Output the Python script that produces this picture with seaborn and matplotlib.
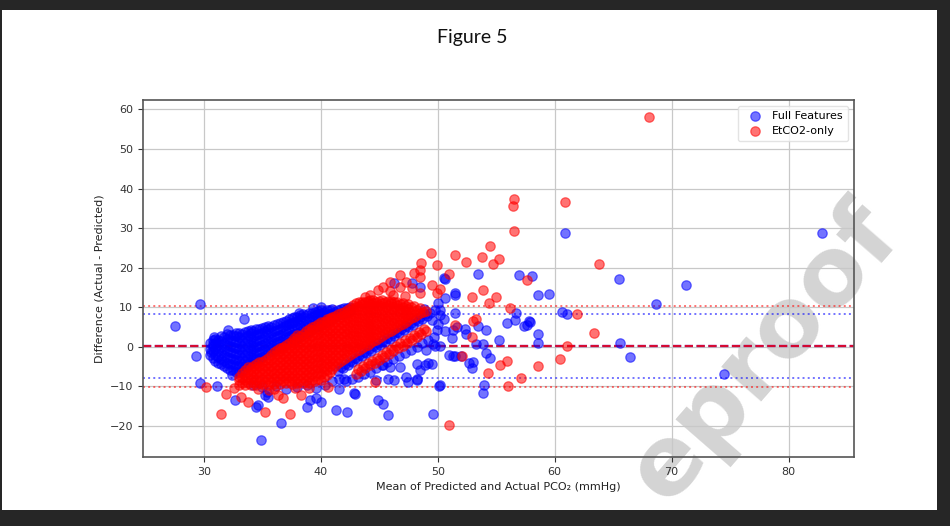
import numpy as np
import pandas as pd
import matplotlib
matplotlib.use("Agg")
import matplotlib.pyplot as plt
from matplotlib.patches import Rectangle
import seaborn as sns

# ---------------- data ----------------
series_names = ["Full Features", "EtCO2-only"]
series_colors = ["blue", "red"]

# Full Features: dense cloud, written column by column (x, list of y)
full_core_x = [30.5, 31.0, 31.5, 32.0, 32.5, 33.0, 33.5, 34.0, 34.5, 35.0, 35.5,
               36.0, 36.5, 37.0, 37.5, 38.0, 38.5, 39.0, 39.5, 40.0, 40.5, 41.0,
               41.5, 42.0, 42.5]
full_core_y = [
    [-2.0, -0.5, 1.0],
    [-3.5, -2.0, -0.5, 1.0, 2.0],
    [-4.5, -3.0, -1.5, 0.0, 1.5, 2.8],
    [-5.5, -4.0, -2.5, -1.0, 0.5, 2.0, 3.2],
    [-6.0, -4.5, -3.0, -1.5, 0.0, 1.5, 3.0],
    [-6.5, -5.0, -3.5, -2.0, -0.5, 1.0, 2.5, 3.5],
    [-5.0, -3.5, -2.0, -0.5, 1.0, 2.5, 3.8],
    [-4.0, -2.5, -1.0, 0.5, 2.0, 3.5, 4.2],
    [-3.0, -1.5, 0.0, 1.5, 3.0, 4.5],
    [-2.5, -1.0, 0.5, 2.0, 3.5, 4.8],
    [-1.5, 0.0, 1.5, 3.0, 4.5, 5.3],
    [-0.5, 1.0, 2.5, 4.0, 5.5],
    [0.0, 1.5, 3.0, 4.5, 6.0],
    [1.0, 2.5, 4.0, 5.5, 6.6],
    [1.5, 3.0, 4.5, 6.0, 7.2],
    [2.0, 3.5, 5.0, 6.5, 7.6],
    [3.0, 4.5, 6.0, 7.5, 8.2],
    [4.0, 5.5, 7.0, 8.4],
    [5.0, 6.5, 8.0, 8.8],
    [5.5, 7.0, 8.5, 9.2],
    [6.5, 8.0, 9.3],
    [7.0, 8.5, 9.5],
    [8.0, 9.3],
    [8.5, 9.8],
    [9.2, 10.0],
]
# Full Features: staggered columns filling the same cloud
full_core2_x = [30.75, 31.25, 31.75, 32.25, 32.75, 33.25, 33.75, 34.25, 34.75,
                35.25, 35.75, 36.25, 36.75, 37.25, 37.75, 38.25, 38.75, 39.25,
                39.75, 40.25, 40.75, 41.25, 41.75, 42.25]
full_core2_y = [
    [-2.8, -1.2, 0.3, 1.6],
    [-4.0, -2.5, -1.0, 0.5, 1.8],
    [-5.0, -3.5, -2.0, -0.5, 1.0, 2.4],
    [-5.8, -4.3, -2.8, -1.3, 0.2, 1.7, 3.0],
    [-6.3, -4.8, -3.3, -1.8, -0.3, 1.2, 2.7, 3.4],
    [-5.8, -4.3, -2.8, -1.3, 0.2, 1.7, 3.2],
    [-4.5, -3.0, -1.5, 0.0, 1.5, 3.0, 4.0],
    [-3.5, -2.0, -0.5, 1.0, 2.5, 3.9],
    [-2.8, -1.3, 0.2, 1.7, 3.2, 4.6],
    [-2.0, -0.5, 1.0, 2.5, 4.0, 5.0],
    [-1.0, 0.5, 2.0, 3.5, 5.0],
    [-0.2, 1.3, 2.8, 4.3, 5.7],
    [0.5, 2.0, 3.5, 5.0, 6.3],
    [1.2, 2.7, 4.2, 5.7, 6.9],
    [1.8, 3.3, 4.8, 6.3, 7.4],
    [2.5, 4.0, 5.5, 7.0, 7.9],
    [3.5, 5.0, 6.5, 8.0],
    [4.5, 6.0, 7.5, 8.6],
    [5.2, 6.7, 8.2, 9.0],
    [6.0, 7.5, 8.9],
    [6.8, 8.2, 9.4],
    [7.5, 8.9],
    [8.2, 9.5],
    [8.8, 9.9],
]
# Full Features: strips beside / below the EtCO2 band
full_strip_x = [41.5, 41.9, 42.3, 42.7, 43.1, 43.5, 43.9, 44.3, 44.7, 45.1, 45.5,
                45.9, 46.3, 46.7, 47.1, 47.5, 47.9, 48.3, 48.7, 49.1,
                41.7, 42.1, 42.5, 42.9, 43.3, 43.7, 44.1, 44.5, 44.9, 45.3, 45.7,
                46.1, 46.5, 46.9, 47.3, 47.7, 48.1, 48.5, 48.9,
                42.2, 42.7, 43.2, 43.7, 44.2, 44.7, 45.2, 45.7, 46.2, 46.7, 47.2,
                47.7, 48.2, 48.7, 49.2, 49.7,
                34.2, 35.0, 36.2, 37.0, 38.0, 38.8, 39.6, 40.4, 41.0, 41.6]
full_strip_y = [-6.2, -5.4, -4.6, -3.9, -3.2, -2.4, -1.7, -1.0, -0.2, 0.5, 1.2,
                2.0, 2.7, 3.4, 4.2, 4.9, 5.6, 6.4, 7.1, 7.8,
                -5.1, -4.4, -3.6, -2.9, -2.1, -1.4, -0.6, 0.1, 0.9, 1.6, 2.3,
                3.1, 3.8, 4.5, 5.3, 6.0, 6.7, 7.5, 8.2,
                -8.6, -8.1, -7.6, -7.0, -6.3, -5.4, -4.6, -3.9, -3.0, -2.3, -1.6,
                -0.8, 0.0, 0.9, 1.7, 2.4,
                -9.8, -10.3, -9.9, -10.6, -10.2, -9.8, -10.4, -9.6, -8.8, -8.2]
# Full Features: scattered points
full_out_x = [82.85, 60.85, 65.5, 71.2, 68.7, 74.5, 66.4, 65.55, 56.95, 58.1,
              53.45, 50.6, 58.55, 59.5, 51.5, 56.7, 56.6, 55.9, 57.4, 57.8,
              57.9, 57.6, 60.6, 61.05, 58.55, 58.55, 55.2, 53.9, 52.3, 52.45,
              51.65, 53.45, 54.1, 51.2, 49.8, 51.3, 52.0, 52.7, 53.05, 52.9,
              54.1, 54.5, 54.0, 53.9, 50.1, 49.6, 48.9, 49.2, 46.3, 47.5,
              48.2, 42.0, 41.6, 42.85, 44.9, 45.3, 45.75, 41.3, 42.25, 38.8,
              39.6, 40.05, 36.6, 34.9, 34.6, 35.2, 35.5, 32.7, 31.1, 29.7,
              29.3, 27.5, 29.7, 30.65, 30.8, 30.9, 32.1, 33.4, 38.1, 39.35,
              40.05, 32.4, 34.5, 46.3, 47.8, 48.5, 50.5, 51.45, 50.2, 51.5,
              50.6, 48.8, 49.3, 49.8, 50.2, 49.5, 50.0, 50.5, 49.9, 50.6,
              51.3, 49.6, 50.2, 49.0, 49.5, 48.2, 48.5, 46.75, 45.9, 45.3,
              47.3, 48.2, 45.75, 44.75, 51.0, 51.45, 50.2, 39.1, 35.4, 53.3,
              42.9, 50.0]
full_out_y = [28.7, 28.7, 17.1, 15.7, 10.7, -6.8, -2.7, 1.05, 18.2, 17.9,
              18.5, 17.1, 13.0, 13.3, 13.0, 8.4, 6.7, 6.0, 5.3, 6.5,
              6.2, 5.6, 8.8, 8.15, 3.1, 1.05, 1.8, 0.8, 4.6, 3.3,
              5.0, 5.2, 4.3, 2.1, 0.1, -2.4, -2.3, -4.1, -3.9, -5.5,
              -1.7, -2.8, -9.7, -11.6, -10.0, -16.9, -4.7, -4.1, -8.5, -8.9,
              -8.2, -8.1, -10.8, -11.6, -13.5, -14.6, -17.3, -16.1, -16.5, -15.2,
              -13.1, -14.0, -19.2, -23.6, -14.8, -12.3, -12.7, -13.4, -10.0, -9.3,
              -2.4, 5.2, 10.8, -1.3, 0.8, 2.5, 4.2, 7.1, 8.4, 9.7,
              10.1, -7.2, -15.2, 16.0, 16.0, 15.2, 17.3, 13.5, 9.2, 8.4,
              12.2, 9.6, 8.6, 9.2, 8.0, 6.7, 5.8, 6.9, 4.3, 4.0,
              4.1, 0.8, 0.3, -0.9, -4.3, -4.3, -5.8, -5.1, -5.1, -4.7,
              -7.6, -8.4, -8.1, -8.4, -2.2, -2.3, -9.7, -13.5, -11.4, 0.8,
              -11.9, 11.0]

# EtCO2-only: dense band, column by column
etco2_core_x = [33.0, 33.5, 34.0, 34.5, 35.0, 35.5, 36.0, 36.5, 37.0, 37.5, 38.0,
                38.5, 39.0, 39.5, 40.0, 40.5, 41.0, 41.5, 42.0, 42.5, 43.0, 43.5,
                44.0, 44.5, 45.0, 45.5, 46.0, 46.5, 47.0, 47.5, 48.0, 48.5, 49.0]
etco2_core_y = [
    [-9.6, -8.4, -7.6],
    [-9.8, -8.5, -7.1, -6.0],
    [-9.6, -8.2, -6.8, -5.5],
    [-9.7, -8.3, -6.9, -5.5, -4.4],
    [-9.5, -8.1, -6.7, -5.3, -3.9],
    [-9.6, -8.2, -6.8, -5.4, -4.0, -2.8],
    [-9.4, -8.0, -6.6, -5.2, -3.8, -2.4, -1.4],
    [-9.5, -8.1, -6.7, -5.3, -3.9, -2.5, -1.1, -0.4],
    [-9.3, -7.9, -6.5, -5.1, -3.7, -2.3, -0.9, 0.4],
    [-9.4, -8.0, -6.6, -5.2, -3.8, -2.4, -1.0, 0.4, 1.4],
    [-9.2, -7.8, -6.4, -5.0, -3.6, -2.2, -0.8, 0.6, 2.0, 2.9],
    [-9.3, -7.9, -6.5, -5.1, -3.7, -2.3, -0.9, 0.5, 1.9, 3.3],
    [-9.1, -7.7, -6.3, -4.9, -3.5, -2.1, -0.7, 0.7, 2.1, 3.5, 4.5],
    [-8.8, -7.4, -6.0, -4.6, -3.2, -1.8, -0.4, 1.0, 2.4, 3.8, 5.2],
    [-8.3, -6.9, -5.5, -4.1, -2.7, -1.3, 0.1, 1.5, 2.9, 4.3, 5.6, 6.3],
    [-7.2, -5.8, -4.4, -3.0, -1.6, -0.2, 1.2, 2.6, 4.0, 5.4, 6.6, 7.1],
    [-5.6, -4.2, -2.8, -1.4, 0.0, 1.4, 2.8, 4.2, 5.6, 7.0, 7.6],
    [-4.2, -2.8, -1.4, 0.0, 1.4, 2.8, 4.2, 5.6, 7.0, 8.2],
    [-3.0, -1.6, -0.2, 1.2, 2.6, 4.0, 5.4, 6.8, 8.1, 8.9],
    [-2.1, -0.7, 0.7, 2.1, 3.5, 4.9, 6.3, 7.7, 9.0, 9.8],
    [-1.2, 0.2, 1.6, 3.0, 4.4, 5.8, 7.2, 8.6, 10.0, 11.0],
    [-0.4, 1.0, 2.4, 3.8, 5.2, 6.6, 8.0, 9.4, 10.7, 11.4],
    [0.5, 1.9, 3.3, 4.7, 6.1, 7.5, 8.9, 10.3, 11.5],
    [1.4, 2.8, 4.2, 5.6, 7.0, 8.4, 9.8, 11.1, 11.7],
    [2.2, 3.6, 5.0, 6.4, 7.8, 9.2, 10.6, 11.6],
    [3.1, 4.5, 5.9, 7.3, 8.7, 10.1, 11.4],
    [4.0, 5.4, 6.8, 8.2, 9.6, 11.0, 11.6],
    [4.9, 6.3, 7.7, 9.1, 10.5, 11.4],
    [5.8, 7.2, 8.6, 10.0, 11.1],
    [6.7, 8.1, 9.5, 10.7],
    [7.6, 9.0, 10.2],
    [8.5, 9.7],
    [9.1],
]
# EtCO2-only: staggered columns filling the same band
etco2_core2_x = [33.25, 33.75, 34.25, 34.75, 35.25, 35.75, 36.25, 36.75, 37.25,
                 37.75, 38.25, 38.75, 39.25, 39.75, 40.25, 40.75, 41.25, 41.75,
                 42.25, 42.75, 43.25, 43.75, 44.25, 44.75, 45.25, 45.75, 46.25,
                 46.75, 47.25, 47.75, 48.25, 48.75]
etco2_core2_y = [
    [-9.2, -7.8, -6.6],
    [-9.2, -7.8, -6.4, -5.2],
    [-9.0, -7.6, -6.2, -4.9],
    [-9.1, -7.7, -6.3, -4.9, -3.8],
    [-9.0, -7.6, -6.2, -4.8, -3.4],
    [-9.0, -7.6, -6.2, -4.8, -3.4, -2.1],
    [-8.8, -7.4, -6.0, -4.6, -3.2, -1.8, -0.8],
    [-8.8, -7.4, -6.0, -4.6, -3.2, -1.8, -0.4, 0.0],
    [-8.7, -7.3, -5.9, -4.5, -3.1, -1.7, -0.3, 1.0],
    [-8.7, -7.3, -5.9, -4.5, -3.1, -1.7, -0.3, 1.1, 2.2],
    [-8.6, -7.2, -5.8, -4.4, -3.0, -1.6, -0.2, 1.2, 2.6],
    [-8.6, -7.2, -5.8, -4.4, -3.0, -1.6, -0.2, 1.2, 2.6, 3.9],
    [-8.4, -7.0, -5.6, -4.2, -2.8, -1.4, 0.0, 1.4, 2.8, 4.2, 4.9],
    [-8.1, -6.7, -5.3, -3.9, -2.5, -1.1, 0.3, 1.7, 3.1, 4.5, 5.8],
    [-7.6, -6.2, -4.8, -3.4, -2.0, -0.6, 0.8, 2.2, 3.6, 5.0, 6.2],
    [-6.4, -5.0, -3.6, -2.2, -0.8, 0.6, 2.0, 3.4, 4.8, 6.2, 7.3],
    [-4.9, -3.5, -2.1, -0.7, 0.7, 2.1, 3.5, 4.9, 6.3, 7.7],
    [-3.6, -2.2, -0.8, 0.6, 2.0, 3.4, 4.8, 6.2, 7.6, 8.6],
    [-2.5, -1.1, 0.3, 1.7, 3.1, 4.5, 5.9, 7.3, 8.6, 9.4],
    [-1.6, -0.2, 1.2, 2.6, 4.0, 5.4, 6.8, 8.2, 9.6, 10.5],
    [-0.8, 0.6, 2.0, 3.4, 4.8, 6.2, 7.6, 9.0, 10.4, 11.2],
    [0.1, 1.5, 2.9, 4.3, 5.7, 7.1, 8.5, 9.9, 11.2],
    [1.0, 2.4, 3.8, 5.2, 6.6, 8.0, 9.4, 10.8, 11.8],
    [1.8, 3.2, 4.6, 6.0, 7.4, 8.8, 10.2, 11.4],
    [2.7, 4.1, 5.5, 6.9, 8.3, 9.7, 11.1, 11.9],
    [3.6, 5.0, 6.4, 7.8, 9.2, 10.6, 11.5],
    [4.5, 5.9, 7.3, 8.7, 10.1, 11.3],
    [5.4, 6.8, 8.2, 9.6, 10.9],
    [6.3, 7.7, 9.1, 10.4],
    [7.2, 8.6, 10.0],
    [8.1, 9.4],
    [8.9],
]
# EtCO2-only: thin lower stripe
etco2_stripe_x = [43.0, 43.4, 43.8, 44.2, 44.6, 45.0, 45.4, 45.8, 46.2, 46.6, 47.0,
                  47.4, 47.8, 48.2, 48.6, 49.0,
                  43.2, 43.6, 44.0, 44.4, 44.8, 45.2, 45.6, 46.0, 46.4, 46.8, 47.2,
                  47.6, 48.0, 48.4, 48.8]
etco2_stripe_y = [-6.9, -6.2, -5.5, -4.7, -4.0, -3.3, -2.6, -1.9, -1.1, -0.4, 0.3,
                  1.0, 1.7, 2.5, 3.2, 3.9,
                  -5.6, -4.9, -4.2, -3.5, -2.8, -2.0, -1.3, -0.6, 0.2, 0.9, 1.6,
                  2.3, 3.0, 3.8, 4.5]
# EtCO2-only: scattered points
etco2_out_x = [68.06, 56.5, 56.4, 60.85, 56.5, 63.8, 54.5, 49.4, 51.5, 53.8,
               52.45, 55.2, 54.7, 49.9, 48.6, 48.5, 51.0, 57.6, 53.9, 52.9,
               55.0, 54.4, 56.2, 61.9, 63.4, 61.05, 60.5, 58.6, 55.3, 55.9,
               57.1, 56.0, 54.3, 51.0, 53.3, 53.05, 51.45, 52.1, 52.9,
               48.0, 48.5, 46.75, 47.3, 45.9, 45.3, 44.9, 46.75, 47.8, 49.5,
               50.2, 48.5, 49.9, 45.9, 44.2, 43.8, 46.2, 47.2,
               30.2, 31.9, 31.5, 33.2, 33.8, 35.2, 36.35, 36.8, 37.35, 38.35,
               44.6, 32.6, 34.6, 36.0, 37.8, 39.0, 40.6, 35.6]
etco2_out_y = [58.2, 37.3, 35.7, 36.7, 29.3, 20.9, 25.4, 23.6, 23.3, 22.7,
               21.3, 22.1, 20.9, 20.6, 21.1, 19.4, 18.4, 16.8, 14.3, 12.6,
               12.5, 11.1, 9.7, 8.2, 3.5, 0.1, -3.0, -4.9, -4.7, -3.7,
               -7.8, -9.9, -6.6, -19.9, 6.9, 6.5, 5.4, -2.3, 2.5,
               18.6, 17.6, 18.1, 16.4, 16.4, 15.1, 14.3, 15.1, 14.8, 15.6,
               14.7, 13.5, 13.5, 14.1, 13.0, 12.6, 13.2, 12.8,
               -10.3, -11.9, -16.9, -12.7, -14.0, -16.5, -12.3, -13.1, -16.9, -12.3,
               -8.9, -10.5, -10.6, -10.8, -10.5, -10.4, -10.2, -11.0]

# Bland-Altman summary lines (mean, lower and upper limits of agreement)
full_mean, full_loa_low, full_loa_high = 0.1, -8.0, 8.2
etco2_mean, etco2_loa_low, etco2_loa_high = 0.1, -10.1, 10.3

x_ticks = [30, 40, 50, 60, 70, 80]
y_ticks = [-20, -10, 0, 10, 20, 30, 40, 50, 60]

# ---------------- build tables ----------------
def flatten_cols(xs, ys):
    fx, fy = [], []
    for xv, col in zip(xs, ys):
        for yv in col:
            fx.append(xv)
            fy.append(yv)
    return fx, fy

fcx, fcy = flatten_cols(full_core_x, full_core_y)
fcx2, fcy2 = flatten_cols(full_core2_x, full_core2_y)
ecx, ecy = flatten_cols(etco2_core_x, etco2_core_y)
ecx2, ecy2 = flatten_cols(etco2_core2_x, etco2_core2_y)

full_df = pd.DataFrame({"x": fcx + fcx2 + full_strip_x + full_out_x,
                        "y": fcy + fcy2 + full_strip_y + full_out_y})
etco2_df = pd.DataFrame({"x": ecx + ecx2 + etco2_stripe_x + etco2_out_x,
                         "y": ecy + ecy2 + etco2_stripe_y + etco2_out_y})

# ---------------- figure ----------------
plt.rcParams["font.family"] = ["DejaVu Sans"]
fig = plt.figure(figsize=(9.5, 5.26), dpi=100, facecolor="white")
ax = fig.add_axes([0.1505, 0.1312, 0.899 - 0.1505, 0.8099 - 0.1312])
ax.set_facecolor("none")

# watermark behind the axes
fig.text(0.805, 0.33, "eproof", rotation=49, fontsize=70, fontweight="bold",
         color="#d4d4d4", ha="center", va="center", zorder=-1,
         family="DejaVu Sans")

ax.set_axisbelow(True)
ax.grid(True, color="#c8c8c8", linewidth=0.9)

for mean_v, lo, hi, col in [(full_mean, full_loa_low, full_loa_high, "blue"),
                            (etco2_mean, etco2_loa_low, etco2_loa_high, "red")]:
    ax.axhline(mean_v, color=col, linestyle="--", linewidth=1.6, alpha=0.8, zorder=1.5)
    ax.axhline(lo, color=col, linestyle=":", linewidth=1.4, alpha=0.55, zorder=1.5)
    ax.axhline(hi, color=col, linestyle=":", linewidth=1.4, alpha=0.55, zorder=1.5)

sns.scatterplot(data=full_df, x="x", y="y", color=series_colors[0], alpha=0.55,
                s=46, edgecolor=series_colors[0], linewidth=0.9,
                label=series_names[0], ax=ax, zorder=2)
sns.scatterplot(data=etco2_df, x="x", y="y", color=series_colors[1], alpha=0.55,
                s=46, edgecolor=series_colors[1], linewidth=0.9,
                label=series_names[1], ax=ax, zorder=2.1)

ax.set_xlim(24.8, 85.6)
ax.set_ylim(-27.9, 62.4)
ax.set_xticks(x_ticks)
ax.set_yticks(y_ticks)
ax.tick_params(labelsize=8, colors="#333333", length=3.5, width=0.8)
for sp in ax.spines.values():
    sp.set_color("#555555")
    sp.set_linewidth(1.2)
ax.set_xlabel("Mean of Predicted and Actual PCO\u2082 (mmHg)", fontsize=8, color="#222222")
ax.set_ylabel("Difference (Actual - Predicted)", fontsize=8, color="#222222")

leg = ax.legend(loc="upper right", fontsize=8, frameon=True, borderpad=0.5,
                handletextpad=0.6, labelspacing=0.4)
leg.get_frame().set_edgecolor("#dddddd")

fig.text(0.497, 0.928, "Figure 5", ha="center", va="center", fontsize=14,
         family=["Lato", "DejaVu Sans"], color="#111111")

# dark screenshot border
border = "#262626"
for (x0, y0, w, h) in [(0, 1 - 10 / 526, 1, 10 / 526),
                       (0, 0, 1, 16 / 526),
                       (1 - 13 / 950, 0, 13 / 950, 1),
                       (0, 0, 2 / 950, 1)]:
    fig.add_artist(Rectangle((x0, y0), w, h, transform=fig.transFigure,
                             facecolor=border, edgecolor="none", zorder=10))

fig.savefig("out.png", dpi=100, facecolor="white")
